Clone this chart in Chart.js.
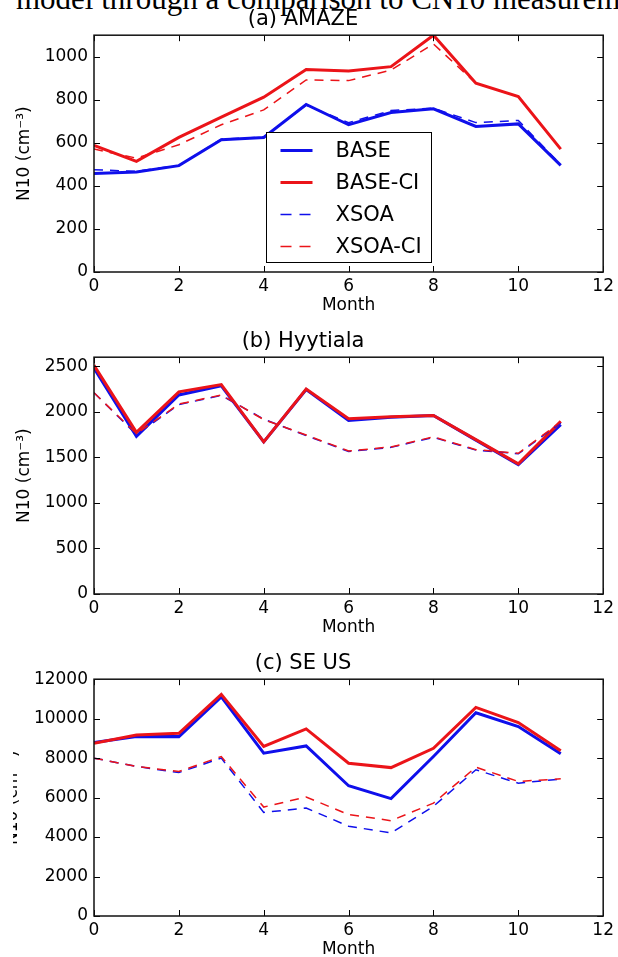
<!DOCTYPE html>
<html>
<head>
<meta charset="utf-8">
<script src="https://cdn.jsdelivr.net/npm/chart.js@4.4.1/dist/chart.umd.min.js"></script>
<style>
  html, body { margin:0; padding:0; background:#fff; }
  body { width:618px; height:957px; overflow:hidden; position:relative; }
  .pagetext { position:absolute; left:16px; top:-17px; font-family:'Liberation Serif','Times New Roman',serif;
              font-size:31px; line-height:1; white-space:nowrap; color:#000; }
  canvas { position:absolute; left:0; }
  #cropC { position:absolute; left:0; top:720px; width:13px; height:170px; background:#fff; }
</style>
</head>
<body>
<div class="pagetext">model through a comparison to CN10 measurements</div>
<canvas id="pa" width="618" height="320" style="top:0px"></canvas>
<canvas id="pb" width="618" height="320" style="top:322px"></canvas>
<canvas id="pc" width="618" height="320" style="top:644px"></canvas>
<div id="cropC"></div>
<script>
// ---------- data ----------
const months = [0,1,2,3,4,5,6,7,8,9,10,11];
const seriesNames = ['BASE','BASE-CI','XSOA','XSOA-CI'];
const panelTitles = ['(a) AMAZE','(b) Hyytiala','(c) SE US'];
const xTickValues = [0,2,4,6,8,10,12];
const amazeYTicks = [0,200,400,600,800,1000];
const hyyYTicks   = [0,500,1000,1500,2000,2500];
const seusYTicks  = [0,2000,4000,6000,8000,10000,12000];
const yMaxes = [1100, 2600, 12000];

const amazeBase    = [457, 465, 494, 614, 625, 778, 684, 741, 758, 676, 688, 495];
const amazeBaseCI  = [588, 514, 625, 719, 812, 941, 934, 954, 1100, 877, 815, 571];
const amazeXsoa    = [475, 468, 495, 617, 627, 775, 694, 750, 761, 694, 704, 498];
const amazeXsoaCI  = [571, 529, 591, 684, 753, 892, 889, 938, 1059, 877, 815, 571];

const hyyBase      = [2480, 1730, 2185, 2285, 1670, 2245, 1905, 1940, 1960, 1690, 1420, 1860];
const hyyBaseCI    = [2510, 1775, 2220, 2300, 1670, 2250, 1925, 1945, 1960, 1695, 1430, 1895];
const hyyXsoa      = [2210, 1750, 2080, 2180, 1920, 1740, 1565, 1610, 1720, 1580, 1540, 1880];
const hyyXsoaCI    = [2210, 1760, 2085, 2185, 1915, 1745, 1570, 1615, 1725, 1585, 1545, 1890];

const seusBase     = [8790, 9100, 9090, 11100, 8250, 8620, 6600, 5950, 8080, 10300, 9600, 8220];
const seusBaseCI   = [8750, 9170, 9260, 11230, 8590, 9480, 7740, 7520, 8500, 10570, 9800, 8370];
const seusXsoa     = [8000, 7580, 7270, 8000, 5250, 5470, 4550, 4210, 5560, 7410, 6730, 6940];
const seusXsoaCI   = [8000, 7580, 7320, 8080, 5520, 6030, 5140, 4830, 5720, 7540, 6820, 6950];

const yTickSets = [amazeYTicks, hyyYTicks, seusYTicks];

// ---------- styles ----------
const BLUE = 'rgb(15,15,235)';
const RED  = 'rgb(235,20,25)';
const FONT = "'DejaVu Sans', sans-serif";
const seriesColors = [BLUE, RED, BLUE, RED];
const seriesDashed = [false, false, true, true];

function makeDatasets(arrs) {
  return arrs.map((d, i) => ({
    label: seriesNames[i],
    data: d,
    borderColor: seriesColors[i],
    backgroundColor: seriesColors[i],
    borderWidth: seriesDashed[i] ? 1.5 : 3,
    borderDash: seriesDashed[i] ? [9, 7] : [],
    pointRadius: 0,
    tension: 0,
    fill: false,
    order: 4 - i
  }));
}

const frameTicks = {
  id: 'frameTicks',
  afterDatasetsDraw(chart) {
    const { ctx, chartArea: a, scales: { x, y } } = chart;
    ctx.save();
    ctx.strokeStyle = '#000';
    ctx.lineWidth = 1;
    ctx.beginPath();
    x.ticks.forEach(t => {
      const px = Math.round(x.getPixelForValue(t.value)) + 0.5;
      ctx.moveTo(px, a.bottom); ctx.lineTo(px, a.bottom - 6);
      ctx.moveTo(px, a.top); ctx.lineTo(px, a.top + 6);
    });
    y.ticks.forEach(t => {
      const py = Math.round(y.getPixelForValue(t.value)) + 0.5;
      ctx.moveTo(a.left, py); ctx.lineTo(a.left + 6, py);
      ctx.moveTo(a.right, py); ctx.lineTo(a.right - 6, py);
    });
    ctx.stroke();
    ctx.lineWidth = 1.5;
    ctx.strokeStyle = '#111';
    ctx.strokeRect(a.left, a.top, a.right - a.left, a.bottom - a.top);
    ctx.restore();
  }
};

const boxLegend = {
  id: 'boxLegend',
  afterDraw(chart, args, opts) {
    if (!opts || !opts.show) return;
    const { ctx, chartArea: a } = chart;
    const w = 165, h = 130;
    const left = Math.round((a.left + a.right) / 2 - w / 2) + 0.5;
    const top = Math.round(a.bottom - 10 - h) + 0.5;
    ctx.save();
    ctx.fillStyle = '#fff';
    ctx.fillRect(left, top, w, h);
    ctx.strokeStyle = '#000';
    ctx.lineWidth = 1;
    ctx.strokeRect(left, top, w, h);
    chart.data.datasets.forEach((ds, i) => {
      const yy = top + 18 + i * 32;
      ctx.beginPath();
      ctx.strokeStyle = ds.borderColor;
      ctx.lineWidth = ds.borderWidth;
      ctx.setLineDash(ds.borderDash && ds.borderDash.length ? [11, 8] : []);
      ctx.moveTo(left + 14, yy);
      ctx.lineTo(left + 46, yy);
      ctx.stroke();
      ctx.setLineDash([]);
      ctx.fillStyle = '#000';
      ctx.font = "21px " + FONT;
      ctx.textBaseline = 'middle';
      ctx.textAlign = 'left';
      ctx.fillText(ds.label, left + 69, yy + 1);
    });
    ctx.restore();
  }
};

function makePanel(id, idx, arrs, yTitlePad, legend) {
  new Chart(document.getElementById(id), {
    type: 'line',
    data: { labels: months, datasets: makeDatasets(arrs) },
    plugins: [frameTicks, boxLegend],
    options: {
      responsive: false,
      animation: false,
      devicePixelRatio: 1,
      layout: { padding: { left: 0, right: 12, top: 7, bottom: 4 } },
      plugins: {
        legend: { display: false },
        tooltip: { enabled: false },
        boxLegend: { show: legend },
        title: {
          display: true, text: panelTitles[idx], color: '#000',
          font: { family: FONT, size: 21, weight: 'normal' },
          padding: { top: 0, bottom: 3 }
        }
      },
      scales: {
        x: {
          type: 'linear', min: xTickValues[0], max: xTickValues[xTickValues.length - 1],
          afterBuildTicks: s => { s.ticks = xTickValues.map(v => ({ value: v })); },
          ticks: { color: '#000', font: { family: FONT, size: 17 }, padding: 4, maxRotation: 0,
                   autoSkip: false, callback: v => String(v) },
          grid: { display: false, drawTicks: false },
          border: { display: false },
          title: { display: true, text: 'Month', color: '#000', font: { family: FONT, size: 17 }, padding: 0 },
          afterFit: s => { s.height = 44; }
        },
        y: {
          type: 'linear', min: 0, max: yMaxes[idx],
          afterBuildTicks: s => { s.ticks = yTickSets[idx].map(v => ({ value: v })); },
          ticks: { color: '#000', font: { family: FONT, size: 17 }, padding: 6,
                   autoSkip: false, callback: v => String(v) },
          grid: { display: false, drawTicks: false },
          border: { display: false },
          title: { display: true, text: 'N10 (cm\u207B\u00B3)', color: '#000', font: { family: FONT, size: 17 }, padding: { top: yTitlePad, bottom: 0 } },
          afterFit: s => { s.width = 94; }
        }
      }
    }
  });
}

makePanel('pa', 0, [amazeBase, amazeBaseCI, amazeXsoa, amazeXsoaCI], 14, true);
makePanel('pb', 1, [hyyBase, hyyBaseCI, hyyXsoa, hyyXsoaCI], 14, false);
makePanel('pc', 2, [seusBase, seusBaseCI, seusXsoa, seusXsoaCI], 2, false);
</script>
</body>
</html>
